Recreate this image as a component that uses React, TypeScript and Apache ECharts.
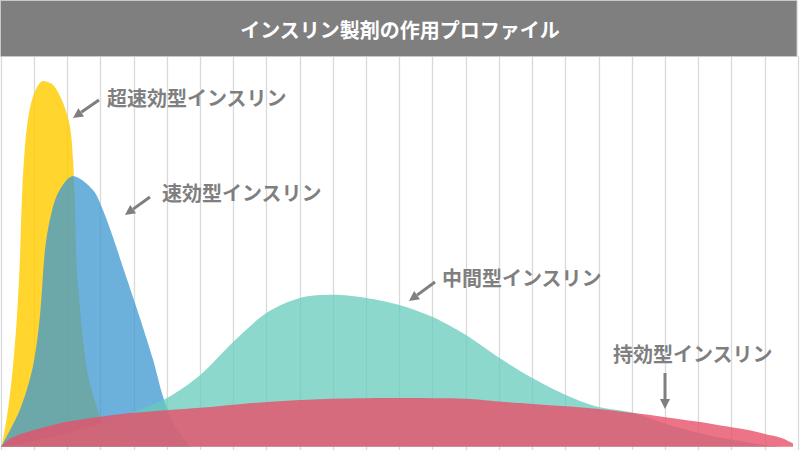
import React, { useEffect, useRef } from 'react';
import * as echarts from 'echarts';

// hours after injection vs. relative effect
const ultraRapid = [
  [0, 0], [0.03, 0.5], [0.21, 9.5], [0.36, 20.5], [0.48, 33.2], [0.57, 47.8], [0.6, 56.3],
  [0.66, 69.1], [0.78, 81.8], [0.96, 89.5], [1.26, 93.6], [1.57, 92.6], [1.87, 88],
  [2.08, 81.8], [2.17, 73.4], [2.23, 62], [2.29, 45], [2.59, 19.7],
  [2.98, 7.7], [3.3, 2], [3.6, 0],
];
const rapid = [
  [0, 0], [0.57, 9.5], [0.96, 20.5], [1.17, 33.2], [1.32, 50], [1.47, 58], [1.72, 65],
  [2.17, 69.3], [2.77, 65.7], [3.07, 60.6], [3.37, 53.7], [3.67, 46], [3.97, 38.4],
  [4.27, 30.7], [4.58, 22.3], [4.88, 12.8], [5.18, 6.1], [5.69, 0],
];
const intermediate = [
  [0, 0], [1, 1.5], [2, 3.5], [3, 6], [4, 9], [5, 12.5], [6, 18.4], [7, 26.9], [8, 34.3],
  [9, 38.1], [10, 38.9], [11, 38.1], [12, 36.3], [13, 33.2], [14, 28.6], [15, 22.8],
  [16, 17.6], [17, 13.3], [18, 10.2], [19, 8.8], [20, 6], [21, 3.6], [22, 1.8], [23, 0.5],
  [23.6, 0],
];
const longActing = [
  [0, 0], [0.25, 2], [0.5, 3], [1, 4.3], [2, 6.4], [3, 7.7], [4, 8.7], [6, 10], [8, 11.5],
  [10, 12.3], [12, 12.5], [14, 12.3], [15, 11.6], [16, 11], [17, 10.4], [18, 9.7],
  [19, 8.7], [20, 7.6], [21, 6.4], [22, 5], [22.5, 4.3], [23, 3.3], [23.5, 2.3], [23.85, 0.9],
];

const seriesNames = ['超速効型インスリン', '速効型インスリン', '中間型インスリン', '持効型インスリン'];
const seriesColors = ['rgba(255,204,0,0.82)', 'rgba(62,152,209,0.76)', 'rgba(103,203,187,0.75)', 'rgba(232,80,105,0.8)'];
const titleText = 'インスリン製剤の作用プロファイル';

const FONT = '"Noto Sans CJK JP", "Noto Sans", sans-serif';
const GRAY = '#7f7f7f';

// label position + arrow start/end (annotation layout only)
const labels = [
  { x: 107, y: 97, from: [99, 100], to: [73, 118] },
  { x: 162, y: 192, from: [150, 197], to: [125, 215] },
  { x: 442, y: 277, from: [435, 282], to: [409, 301] },
  { x: 613, y: 353, from: [665, 373], to: [665, 409] },
];

function arrow(from: number[], to: number[]) {
  const dx = to[0] - from[0];
  const dy = to[1] - from[1];
  const len = Math.sqrt(dx * dx + dy * dy);
  const ux = dx / len, uy = dy / len;
  const nx = -uy, ny = ux;
  const hl = 10, hw = 5;
  const bx = to[0] - ux * hl, by = to[1] - uy * hl;
  return [
    { type: 'line', shape: { x1: from[0], y1: from[1], x2: bx, y2: by }, style: { stroke: GRAY, lineWidth: 3 } },
    {
      type: 'polygon',
      shape: { points: [[to[0], to[1]], [bx + nx * hw, by + ny * hw], [bx - nx * hw, by - ny * hw]] },
      style: { fill: GRAY },
    },
  ];
}

export default function App() {
  const ref = useRef<HTMLDivElement>(null);

  useEffect(() => {
    document.body.style.margin = '0';
    if (!ref.current) return;
    const chart = echarts.init(ref.current, null, { renderer: 'svg' });

    const data = [ultraRapid, rapid, intermediate, longActing];

    const graphic: any[] = [
      {
        type: 'rect',
        shape: { x: 0.5, y: 0.5, width: 796.5, height: 56 },
        style: { fill: GRAY, stroke: '#c8c8c8', lineWidth: 1 },
        z: 10,
      },
      {
        type: 'text',
        x: 400,
        y: 29,
        style: { text: titleText, fill: '#fff', font: `bold 20px ${FONT}`, align: 'center', verticalAlign: 'middle' },
        z: 11,
      },
    ];
    labels.forEach((l, i) => {
      graphic.push({
        type: 'text',
        x: l.x,
        y: l.y,
        style: { text: seriesNames[i], fill: GRAY, font: `bold 20px ${FONT}`, align: 'left', verticalAlign: 'middle' },
        z: 11,
      });
      arrow(l.from, l.to).forEach((g) => graphic.push({ ...g, z: 11 }));
    });

    chart.setOption({
      animation: false,
      grid: { left: 1, right: 2, top: 56, bottom: 0 },
      xAxis: {
        type: 'value',
        min: 0,
        max: 24,
        interval: 1,
        axisLine: { show: false },
        axisTick: { show: false },
        axisLabel: { show: false },
        splitLine: { show: true, lineStyle: { color: '#d9d9d9', width: 1.3 } },
      },
      yAxis: {
        type: 'value',
        min: -0.8,
        max: 100,
        show: false,
        splitLine: { show: false },
      },
      series: data.map((d, i) => ({
        name: seriesNames[i],
        type: 'line',
        data: d,
        smooth: 0.3,
        showSymbol: false,
        lineStyle: { width: 0 },
        itemStyle: { color: seriesColors[i] },
        areaStyle: { color: seriesColors[i], opacity: 1 },
        z: 2 + i,
      })),
      graphic,
    });

    return () => chart.dispose();
  }, []);

  return <div ref={ref} style={{ width: 800, height: 450 }} />;
}
